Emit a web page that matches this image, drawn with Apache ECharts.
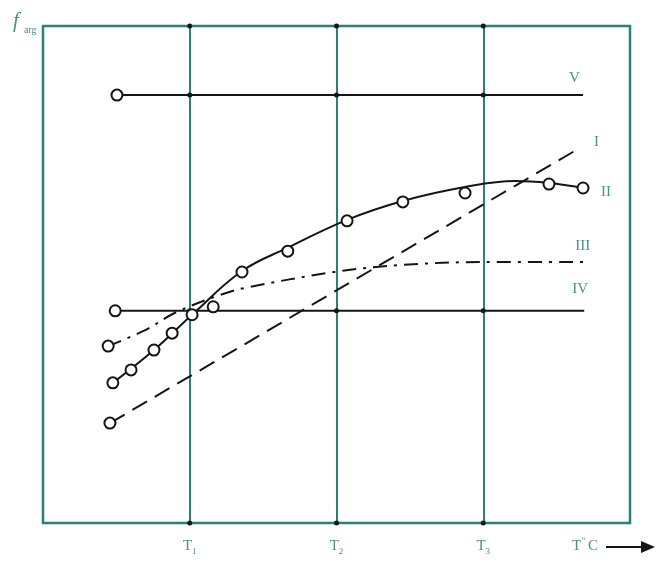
<!DOCTYPE html>
<html><head><meta charset="utf-8">
<script src="https://cdn.jsdelivr.net/npm/echarts@6/dist/echarts.min.js"></script>
<style>html,body{margin:0;padding:0;background:#fff}#c{width:656px;height:562px}</style>
</head><body><div id="c"></div>
<script>
// ---- data (x: 0..100 temperature scale, y: 0..100 f_arg scale) ----
const tickValues = [25, 50, 75];
const tickSubs = ['1', '2', '3'];
const levelV = 86.1;
const levelIV = 42.7;
const curveI = [[11.4, 20.1], [91.5, 75.5]];
const curveV = [[12.6, levelV], [92.0, levelV]];
const curveIV = [[12.3, levelIV], [92.2, levelIV]];
const curveIIline = [[11.9, 28.2], [18.9, 34.8], [25.4, 41.9], [33.9, 50.7], [41.7, 55.4], [51.8, 61.0], [61.3, 64.8], [71.9, 67.6], [80.4, 68.8], [86.2, 68.4], [92.0, 67.4]];
const curveIIpts = [[11.9, 28.2], [15.0, 30.8], [18.9, 34.8], [22.0, 38.2], [25.4, 41.9], [29.0, 43.5], [33.9, 50.5], [41.7, 54.7], [51.8, 60.8], [61.3, 64.6], [71.9, 66.4], [86.2, 68.2], [92.0, 67.4]];
const curveIII = [[11.1, 35.6], [17.4, 38.8], [22.5, 42.3], [30.2, 45.9], [34.4, 47.3], [49.6, 50.5], [60.8, 51.9], [75.3, 52.5], [92.7, 52.5]];
const curveNames = ['I', 'II', 'III', 'IV', 'V'];

const teal = '#2b8079';
const labTeal = '#4f8f8b';
const ink = '#151515';
const serif = 'Liberation Serif';

function firstCircle(arr) {
  return arr.map((p, i) => i === 0 ? { value: p, symbol: 'circle' } : { value: p, symbol: 'none' });
}
function endLab(text, off) {
  return { show: true, formatter: text, offset: off, color: labTeal, fontFamily: serif, fontSize: 15 };
}
const circleStyle = { color: '#fff', borderColor: ink, borderWidth: 2, opacity: 1 };
const dots = [];
tickValues.forEach(x => [0, levelIV, levelV, 100].forEach(y => dots.push([x, y])));

const chart = echarts.init(document.getElementById('c'), null, { renderer: 'canvas' });
chart.setOption({
  animation: false,
  grid: { left: 43, top: 26, right: 26, bottom: 39, show: true, borderColor: teal, borderWidth: 2.5, backgroundColor: 'transparent' },
  xAxis: {
    type: 'value', min: 0, max: 100, interval: 25,
    axisLine: { show: false }, axisTick: { show: false },
    splitLine: { show: true, lineStyle: { color: teal, width: 2 } },
    axisLabel: {
      margin: 14,
      formatter: v => { const i = tickValues.indexOf(v); return i < 0 ? '' : '{t|T}{s|' + tickSubs[i] + '}'; },
      rich: {
        t: { fontFamily: serif, fontSize: 15, color: labTeal },
        s: { fontFamily: serif, fontSize: 9, color: labTeal, padding: [10, 0, 0, 0] }
      }
    }
  },
  yAxis: {
    type: 'value', min: 0, max: 100,
    axisLine: { show: false }, axisTick: { show: false },
    splitLine: { show: false }, axisLabel: { show: false }
  },
  series: [
    { type: 'line', name: curveNames[4], data: firstCircle(curveV), symbolSize: 11, itemStyle: circleStyle,
      lineStyle: { color: ink, width: 2 }, endLabel: endLab(curveNames[4], [-22, -17]), z: 3 },
    { type: 'line', name: curveNames[3], data: firstCircle(curveIV), symbolSize: 11, itemStyle: circleStyle,
      lineStyle: { color: ink, width: 2 }, endLabel: endLab(curveNames[3], [-20, -22]), z: 3 },
    { type: 'line', name: curveNames[0], data: firstCircle(curveI), symbolSize: 11, itemStyle: circleStyle,
      lineStyle: { color: ink, width: 2, type: [17, 9] }, endLabel: endLab(curveNames[0], [6, -6]), z: 3 },
    { type: 'line', name: curveNames[2], data: firstCircle(curveIII), symbolSize: 11, itemStyle: circleStyle, smooth: 0.35,
      lineStyle: { color: ink, width: 2, type: [14, 7, 3, 7] }, endLabel: endLab(curveNames[2], [-20, -16]), z: 3 },
    { type: 'line', name: curveNames[1], data: curveIIline, showSymbol: false, symbol: 'none', smooth: 0.4,
      lineStyle: { color: ink, width: 2 }, endLabel: endLab(curveNames[1], [10, 4]), z: 3 },
    { type: 'scatter', data: curveIIpts, symbolSize: 11, itemStyle: circleStyle, z: 5 },
    { type: 'scatter', data: dots, symbolSize: 5, itemStyle: { color: ink, opacity: 1 }, clip: false, z: 4 }
  ],
  graphic: [
    { type: 'text', left: 13, top: 11, style: { text: 'f', fontFamily: serif, fontStyle: 'italic', fontSize: 21, fill: labTeal } },
    { type: 'text', left: 24, top: 25, style: { text: 'arg', fontFamily: serif, fontSize: 10, fill: labTeal } },
    { type: 'text', left: 572, top: 539, style: { text: 'T', fontFamily: serif, fontSize: 15, fill: labTeal } },
    { type: 'text', left: 582, top: 535, style: { text: 'o', fontFamily: serif, fontSize: 7, fill: labTeal } },
    { type: 'text', left: 588, top: 539, style: { text: 'C', fontFamily: serif, fontSize: 15, fill: labTeal } },
    { type: 'line', shape: { x1: 606, y1: 547, x2: 644, y2: 547 }, style: { stroke: ink, lineWidth: 2 } },
    { type: 'polygon', shape: { points: [[641, 541], [655, 547], [641, 553]] }, style: { fill: ink } }
  ]
});
</script></body></html>
